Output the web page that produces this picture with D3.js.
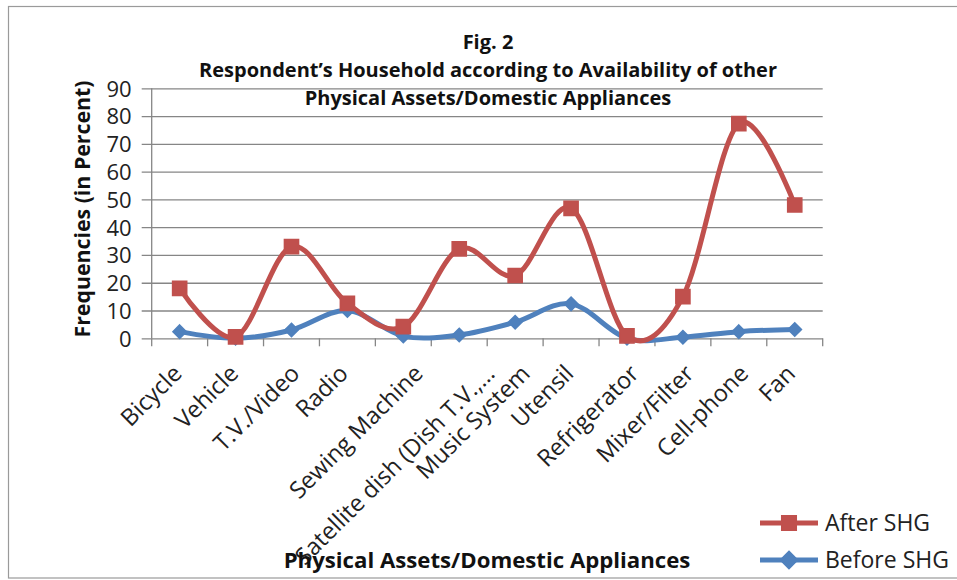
<!DOCTYPE html>
<html>
<head>
<meta charset="utf-8">
<script src="https://cdn.jsdelivr.net/npm/d3@7"></script>
<style>
  html, body { margin: 0; padding: 0; background: #fff; }
  svg { display: block; font-family: "Open Sans", "Noto Sans", sans-serif; }
</style>
</head>
<body>
<svg id="chart" width="957" height="580"></svg>
<script>
// Household assets: share of respondents owning each item (percent)
const categories = ["Bicycle", "Vehicle", "T.V./Video", "Radio", "Sewing Machine",
  "Satellite dish (Dish T.V.,\u2026", "Music System", "Utensil", "Refrigerator",
  "Mixer/Filter", "Cell-phone", "Fan"];
const afterSHG  = [18, 0.5, 33, 12.6, 4.2, 32.2, 22.6, 46.8, 0.9, 15, 77.3, 48];
const beforeSHG = [2.4, 0, 3, 10, 0.8, 1.2, 5.8, 12.4, 0, 0.4, 2.4, 3.2];
const yTicks = [0, 10, 20, 30, 40, 50, 60, 70, 80, 90];
const seriesNames = ["After SHG", "Before SHG"];

const titleLines = ["Fig. 2",
  "Respondent\u2019s Household according to Availability of other",
  "Physical Assets/Domestic Appliances"];
const xTitle = "Physical Assets/Domestic Appliances";
const yTitle = "Frequencies (in Percent)";

const RED = "#C0504D", BLUE = "#4F81BD", GRID = "#868686";

const svg = d3.select("#chart");
const plotLeft = 151.7, plotRight = 822.7, plotTop = 88.3, plotBottom = 338.3;

// chart frame
svg.append("rect").attr("x", 8.5).attr("y", 6.5).attr("width", 960).attr("height", 571.5)
  .attr("fill", "none").attr("stroke", "#9a9a9a").attr("stroke-width", 1.2);

const x = d3.scaleBand().domain(categories).range([plotLeft, plotRight]).paddingInner(0).paddingOuter(0);
const y = d3.scaleLinear().domain([0, 90]).range([plotBottom, plotTop]);

// horizontal gridlines + y tick labels
const yAxis = d3.axisLeft(y).tickValues(yTicks).tickSize(plotRight - plotLeft + 10).tickPadding(10);
const gy = svg.append("g").attr("transform", `translate(${plotRight},0)`).call(yAxis);
gy.select(".domain").remove();
gy.selectAll(".tick line").attr("stroke", GRID).attr("stroke-width", 1.3);
gy.selectAll(".tick text").attr("fill", "#222").attr("font-size", 22)
  .attr("font-family", "Open Sans").attr("dy", "0.36em");

// vertical axis line
svg.append("line").attr("x1", plotLeft).attr("x2", plotLeft).attr("y1", plotTop).attr("y2", plotBottom)
  .attr("stroke", GRID).attr("stroke-width", 1.3);

// category tick marks at band edges
const edges = categories.map(c => x(c)).concat([plotRight]);
svg.append("g").selectAll("line").data(edges).join("line")
  .attr("x1", d => d).attr("x2", d => d).attr("y1", plotBottom).attr("y2", plotBottom + 8)
  .attr("stroke", GRID).attr("stroke-width", 1.3);

// rotated category labels; longer labels sit a little to the right of their tick
const labelG = svg.append("g");
categories.forEach(c => {
  const t = labelG.append("text").text(c)
    .attr("font-size", 23.5).attr("fill", "#222").attr("text-anchor", "end");
  const w = t.node().getComputedTextLength();
  const shift = Math.max(0, (w - 65) * 0.17);
  const cx = x(c) + x.bandwidth() / 2 + 2 + shift;
  t.attr("transform", `translate(${cx},375) rotate(-45)`);
});

// series lines (smoothed) and markers
const cxOf = i => x(categories[i]) + x.bandwidth() / 2;
const line = d3.line()
  .x((d, i) => cxOf(i))
  .y(d => y(d))
  .curve(d3.curveCatmullRom.alpha(0));

svg.append("path").datum(beforeSHG).attr("d", line)
  .attr("fill", "none").attr("stroke", BLUE).attr("stroke-width", 5)
  .attr("stroke-linejoin", "round").attr("stroke-linecap", "round");
svg.append("path").datum(afterSHG).attr("d", line)
  .attr("fill", "none").attr("stroke", RED).attr("stroke-width", 5)
  .attr("stroke-linejoin", "round").attr("stroke-linecap", "round");

const diamond = d3.symbol().type(d3.symbolDiamond2).size(115);
const square = d3.symbol().type(d3.symbolSquare2).size(255);

svg.append("g").selectAll("path").data(beforeSHG).join("path")
  .attr("d", diamond)
  .attr("transform", (d, i) => `translate(${cxOf(i)},${y(d)})`)
  .attr("fill", BLUE).attr("stroke", BLUE).attr("stroke-width", 1.5);
svg.append("g").selectAll("path").data(afterSHG).join("path")
  .attr("d", square)
  .attr("transform", (d, i) => `translate(${cxOf(i)},${y(d)})`)
  .attr("fill", RED).attr("stroke", RED).attr("stroke-width", 1.5);

// title
const titleY = [42, 70, 98];
titleLines.forEach((t, i) => {
  svg.append("text").text(t).attr("x", 488).attr("y", titleY[i]).attr("dy", "0.35em")
    .attr("text-anchor", "middle").attr("font-weight", "bold").attr("font-size", 20)
    .attr("fill", "#111");
});

// axis titles
svg.append("text").text(xTitle).attr("x", 487).attr("y", 560).attr("dy", "0.35em")
  .attr("text-anchor", "middle").attr("font-weight", "bold").attr("font-size", 22.2)
  .attr("fill", "#111");
svg.append("text").text(yTitle)
  .attr("transform", "translate(83,209) rotate(-90)").attr("dy", "0.35em")
  .attr("text-anchor", "middle").attr("font-weight", "bold").attr("font-size", 21.3)
  .attr("fill", "#111");

// legend
const legend = svg.append("g");
const legendRows = [
  { name: seriesNames[0], color: RED, sym: d3.symbol().type(d3.symbolSquare2).size(270), ly: 523 },
  { name: seriesNames[1], color: BLUE, sym: d3.symbol().type(d3.symbolDiamond2).size(190), ly: 560 }
];
legendRows.forEach(r => {
  legend.append("line").attr("x1", 760).attr("x2", 818).attr("y1", r.ly).attr("y2", r.ly)
    .attr("stroke", r.color).attr("stroke-width", 5);
  legend.append("path").attr("d", r.sym).attr("transform", `translate(789,${r.ly})`)
    .attr("fill", r.color).attr("stroke", r.color).attr("stroke-width", 1.5);
  legend.append("text").text(r.name).attr("x", 825).attr("y", r.ly).attr("dy", "0.35em")
    .attr("font-size", 23).attr("fill", "#222");
});
</script>
</body>
</html>
